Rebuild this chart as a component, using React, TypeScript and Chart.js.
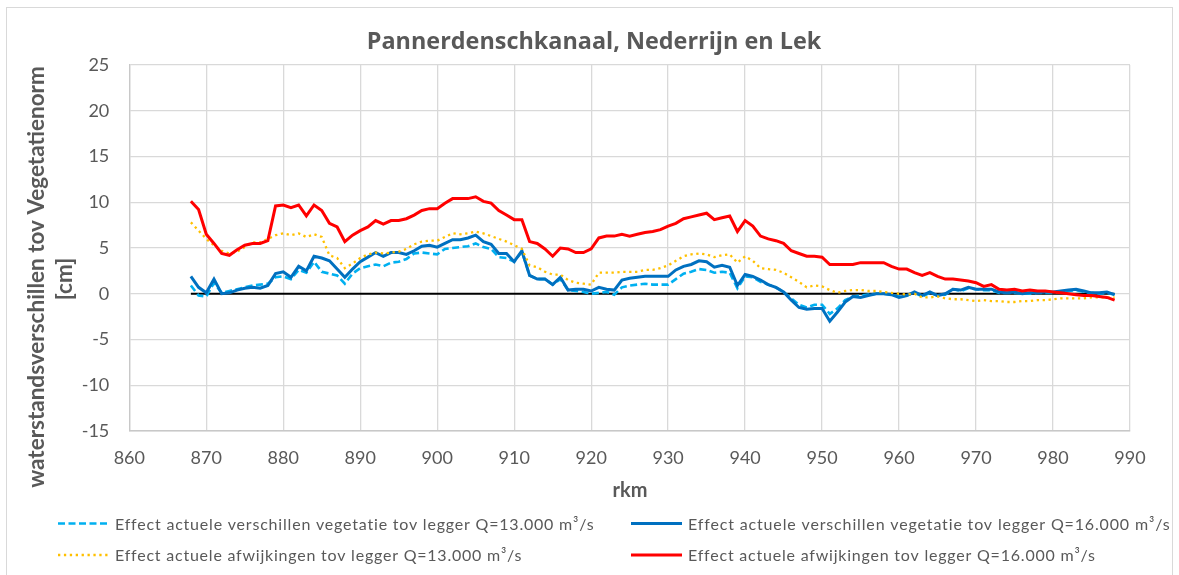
import React, { useEffect, useRef } from "react";
import { Chart, registerables } from "chart.js";

Chart.register(...registerables);

// ---- Data ----
const rkm = [
  868, 869, 870, 871, 872, 873, 874, 875, 876, 877,
  878, 879, 880, 881, 882, 883, 884, 885, 886, 887,
  888, 889, 890, 891, 892, 893, 894, 895, 896, 897,
  898, 899, 900, 901, 902, 903, 904, 905, 906, 907,
  908, 909, 910, 911, 912, 913, 914, 915, 916, 917,
  918, 919, 920, 921, 922, 923, 924, 925, 926, 927,
  928, 929, 930, 931, 932, 933, 934, 935, 936, 937,
  938, 939, 940, 941, 942, 943, 944, 945, 946, 947,
  948, 949, 950, 951, 952, 953, 954, 955, 956, 957,
  958, 959, 960, 961, 962, 963, 964, 965, 966, 967,
  968, 969, 970, 971, 972, 973, 974, 975, 976, 977,
  978, 979, 980, 981, 982, 983, 984, 985, 986, 987,
  988,
];

const verschillen13000 = [
  0.9, -0.2, -0.3, 1.2, 0.1, 0.3, 0.5, 0.7, 0.9, 1.0,
  1.1, 1.8, 1.9, 1.6, 2.6, 2.3, 3.5, 2.4, 2.2, 2.0,
  1.1, 2.2, 2.8, 3.0, 3.2, 3.0, 3.4, 3.5, 3.8, 4.4,
  4.5, 4.4, 4.3, 4.9, 5.0, 5.1, 5.2, 5.5, 5.1, 4.9,
  4.0, 3.9, 3.5, 4.6, 2.0, 1.6, 1.6, 1.0, 1.6, 0.4,
  0.3, 0.2, 0.0, 0.1, 0.2, -0.1, 0.7, 0.9, 1.0, 1.1,
  1.0, 1.0, 1.0, 1.6, 2.2, 2.4, 2.7, 2.6, 2.3, 2.4,
  2.3, 0.6, 1.9, 1.8, 1.3, 1.0, 0.7, 0.2, -0.5, -1.2,
  -1.5, -1.2, -1.2, -2.2, -1.6, -0.7, -0.3, -0.2, -0.1, 0.0,
  0.0, -0.1, -0.3, -0.2, 0.1, -0.3, 0.1, -0.2, -0.1, 0.5,
  0.3, 0.6, 0.5, 0.4, 0.4, 0.1, 0.1, 0.1, 0.0, 0.0,
  0.1, 0.1, 0.1, 0.2, 0.3, 0.4, 0.2, 0.1, 0.0, 0.1,
  -0.1,
];

const verschillen16000 = [
  1.9, 0.7, 0.1, 1.6, 0.0, 0.1, 0.4, 0.6, 0.7, 0.6,
  0.9, 2.2, 2.4, 1.8, 3.0, 2.5, 4.1, 3.9, 3.6, 2.7,
  1.8, 2.7, 3.5, 4.0, 4.5, 4.1, 4.5, 4.5, 4.3, 4.7,
  5.2, 5.3, 5.1, 5.5, 5.9, 5.9, 6.1, 6.4, 5.7, 5.4,
  4.4, 4.4, 3.5, 4.7, 2.0, 1.6, 1.6, 1.0, 1.8, 0.4,
  0.5, 0.5, 0.3, 0.7, 0.5, 0.4, 1.5, 1.7, 1.8, 1.9,
  1.9, 1.9, 1.9, 2.6, 3.0, 3.2, 3.6, 3.5, 2.9, 3.1,
  2.9, 0.9, 2.1, 1.9, 1.5, 1.0, 0.7, 0.2, -0.7, -1.5,
  -1.7, -1.6, -1.6, -3.0, -2.0, -0.9, -0.3, -0.4, -0.2, 0.0,
  0.0, -0.1, -0.4, -0.2, 0.2, -0.2, 0.2, -0.2, 0.0, 0.5,
  0.4, 0.7, 0.5, 0.5, 0.5, 0.2, 0.1, 0.2, 0.0, 0.1,
  0.1, 0.2, 0.2, 0.3, 0.4, 0.5, 0.3, 0.1, 0.1, 0.2,
  -0.1,
];

const afwijkingen13000 = [
  7.8, 6.9, 6.0, 5.3, 4.7, 4.4, 4.6, 5.1, 5.6, 5.6,
  6.0, 6.4, 6.6, 6.4, 6.6, 6.2, 6.5, 6.2, 4.2, 3.9,
  2.8, 3.3, 3.9, 4.3, 4.5, 4.4, 4.5, 4.6, 4.9, 5.4,
  5.7, 5.8, 5.8, 6.2, 6.6, 6.5, 6.6, 6.8, 6.6, 6.3,
  6.0, 5.7, 5.3, 4.9, 3.1, 2.9, 2.4, 2.1, 2.1, 1.5,
  1.2, 1.1, 1.0, 2.3, 2.3, 2.3, 2.4, 2.4, 2.4, 2.6,
  2.6, 2.8, 3.1, 3.6, 4.1, 4.3, 4.4, 4.3, 4.0, 4.2,
  4.3, 3.4, 4.1, 3.6, 2.8, 2.7, 2.6, 2.3, 1.8, 1.3,
  0.7, 0.9, 0.8, 0.4, 0.1, 0.3, 0.4, 0.4, 0.3, 0.3,
  0.2, 0.1, 0.0, -0.1, 0.0, -0.4, -0.4, -0.3, -0.5, -0.6,
  -0.6, -0.7, -0.8, -0.7, -0.8, -0.8, -0.9, -0.9, -0.8, -0.8,
  -0.7, -0.7, -0.6, -0.5, -0.5, -0.5, -0.5, -0.4, -0.4, -0.4,
  -0.4,
];

const afwijkingen16000 = [
  10.1, 9.2, 6.5, 5.5, 4.4, 4.2, 4.8, 5.3, 5.5, 5.5,
  5.8, 9.6, 9.7, 9.4, 9.7, 8.5, 9.7, 9.1, 7.7, 7.3,
  5.7, 6.4, 6.9, 7.3, 8.0, 7.6, 8.0, 8.0, 8.2, 8.6,
  9.1, 9.3, 9.3, 9.9, 10.4, 10.4, 10.4, 10.6, 10.1, 9.9,
  9.1, 8.6, 8.1, 8.1, 5.7, 5.5, 4.9, 4.1, 5.0, 4.9,
  4.5, 4.5, 4.9, 6.1, 6.3, 6.3, 6.5, 6.3, 6.5, 6.7,
  6.8, 7.0, 7.4, 7.7, 8.2, 8.4, 8.6, 8.8, 8.1, 8.3,
  8.5, 6.8, 8.0, 7.4, 6.3, 6.0, 5.8, 5.5, 4.7, 4.4,
  4.1, 4.1, 4.0, 3.2, 3.2, 3.2, 3.2, 3.4, 3.4, 3.4,
  3.4, 3.0, 2.7, 2.7, 2.3, 2.0, 2.3, 1.9, 1.6, 1.6,
  1.5, 1.4, 1.2, 0.8, 1.0, 0.5, 0.4, 0.5, 0.3, 0.4,
  0.3, 0.3, 0.2, 0.1, 0.0, -0.1, -0.2, -0.2, -0.3, -0.4,
  -0.7,
];

const zeroLineKm = [868, 988];
const zeroLineValues = [0, 0];

const seriesLabels = [
  "Effect actuele verschillen vegetatie tov legger Q=13.000 m³/s",
  "Effect actuele verschillen vegetatie tov legger Q=16.000 m³/s",
  "Effect actuele afwijkingen tov legger Q=13.000 m³/s",
  "Effect actuele afwijkingen tov legger Q=16.000 m³/s",
];

const chartTitle = "Pannerdenschkanaal, Nederrijn en Lek";
const yTitleLines = ["waterstandsverschillen tov Vegetatienorm", "[cm]"];
const xTitle = "rkm";

// ---- Styles ----
const TEXT = "#595959";
const GRID = "#d9d9d9";
const FONT = "Lato, 'Open Sans', sans-serif";

const seriesStyles = [
  { color: "#00B0F0", width: 2.6, dash: [7, 3.5] },
  { color: "#0070C0", width: 3, dash: [] as number[] },
  { color: "#FFC000", width: 2.3, dash: [2.3, 3.6] },
  { color: "#FF0000", width: 3, dash: [] as number[] },
];

const legendLayout = [
  { x1: 58, x2: 110, tx: 115, y: 523.5, w: 479 },
  { x1: 631, x2: 682, tx: 688, y: 523.5, w: 482 },
  { x1: 58, x2: 110, tx: 115, y: 555, w: 406.5 },
  { x1: 631, x2: 682, tx: 688, y: 555, w: 407 },
];

const toPoints = (xs: number[], ys: number[]) => xs.map((x, i) => ({ x, y: ys[i] }));

const overlayPlugin = {
  id: "overlay",
  beforeDraw(chart: any) {
    const ctx = chart.ctx as CanvasRenderingContext2D;
    ctx.save();
    ctx.fillStyle = "#ffffff";
    ctx.fillRect(0, 0, chart.width, chart.height);
    ctx.strokeStyle = GRID;
    ctx.lineWidth = 1;
    ctx.strokeRect(6.5, 7.5, 1166, 640);
    ctx.restore();
  },
  afterDraw(chart: any) {
    const ctx = chart.ctx as CanvasRenderingContext2D;
    ctx.save();
    ctx.fillStyle = TEXT;
    // title
    ctx.font = `bold 23.4px 'Open Sans', Lato, sans-serif`;
    ctx.textAlign = "center";
    ctx.textBaseline = "alphabetic";
    ctx.fillText(chartTitle, 594, 49);
    // x title
    ctx.font = `bold 20px ${FONT}`;
    ctx.fillText(xTitle, 630, 497);
    // y title
    ctx.font = `bold 22.5px ${FONT}`;
    ctx.save();
    ctx.translate(44, 277);
    ctx.rotate(-Math.PI / 2);
    ctx.fillText(yTitleLines[0], 0, 0);
    ctx.restore();
    ctx.save();
    ctx.translate(72, 279);
    ctx.rotate(-Math.PI / 2);
    ctx.fillText(yTitleLines[1], 0, 0);
    ctx.restore();
    // legend
    ctx.font = `16px ${FONT}`;
    ctx.textAlign = "left";
    ctx.textBaseline = "middle";
    seriesLabels.forEach((label, i) => {
      const L = legendLayout[i];
      const s = seriesStyles[i];
      ctx.save();
      ctx.strokeStyle = s.color;
      ctx.lineWidth = s.width;
      ctx.setLineDash(s.dash);
      ctx.beginPath();
      ctx.moveTo(L.x1, L.y);
      ctx.lineTo(L.x2, L.y);
      ctx.stroke();
      ctx.restore();
      (ctx as any).letterSpacing = "0px";
      const w = ctx.measureText(label).width;
      const ls = (L.w - w) / label.length;
      (ctx as any).letterSpacing = `${ls.toFixed(2)}px`;
      ctx.fillText(label, L.tx, L.y + 1);
      (ctx as any).letterSpacing = "0px";
    });
    ctx.restore();
  },
};

export default function App() {
  const canvasRef = useRef<HTMLCanvasElement | null>(null);

  useEffect(() => {
    if (!canvasRef.current) return;
    const seriesValues = [verschillen13000, verschillen16000, afwijkingen13000, afwijkingen16000];
    const orders = [4, 3, 2, 1];
    const datasets: any[] = seriesValues.map((vals, i) => ({
      label: seriesLabels[i],
      data: toPoints(rkm, vals),
      borderColor: seriesStyles[i].color,
      backgroundColor: seriesStyles[i].color,
      borderWidth: seriesStyles[i].width,
      borderDash: seriesStyles[i].dash,
      pointRadius: 0,
      tension: 0,
      fill: false,
      order: orders[i],
    }));
    datasets.push({
      label: "0",
      data: toPoints(zeroLineKm, zeroLineValues),
      borderColor: "#000000",
      borderWidth: 2,
      pointRadius: 0,
      fill: false,
      order: 5,
    });

    const tickFont = { family: FONT, size: 18 };
    const chart = new Chart(canvasRef.current, {
      type: "line",
      data: { datasets },
      plugins: [overlayPlugin],
      options: {
        animation: false,
        responsive: false,
        events: [],
        layout: { padding: { top: 65, left: 0, right: 49, bottom: 0 } },
        plugins: {
          legend: { display: false },
          title: { display: false },
          tooltip: { enabled: false },
        },
        scales: {
          x: {
            type: "linear",
            min: 860,
            max: 990,
            ticks: { stepSize: 10, color: TEXT, font: tickFont, padding: 16, maxRotation: 0 },
            grid: { color: GRID, lineWidth: 1.3, drawTicks: false },
            border: { color: "#c8c8c8", width: 1.5 },
            afterFit: (s: any) => {
              s.height = 144;
            },
          },
          y: {
            type: "linear",
            min: -15,
            max: 25,
            ticks: { stepSize: 5, color: TEXT, font: tickFont, padding: 20 },
            grid: { color: GRID, lineWidth: 1.3, drawTicks: false },
            border: { color: "#c8c8c8", width: 1.3 },
            afterFit: (s: any) => {
              s.width = 129.3;
            },
          },
        },
      } as any,
    });
    return () => chart.destroy();
  }, []);

  return (
    <div style={{ position: "absolute", left: 0, top: 0, width: 1179, height: 575, background: "#fff" }}>
      <canvas ref={canvasRef} width={1179} height={575} style={{ display: "block" }} />
    </div>
  );
}
